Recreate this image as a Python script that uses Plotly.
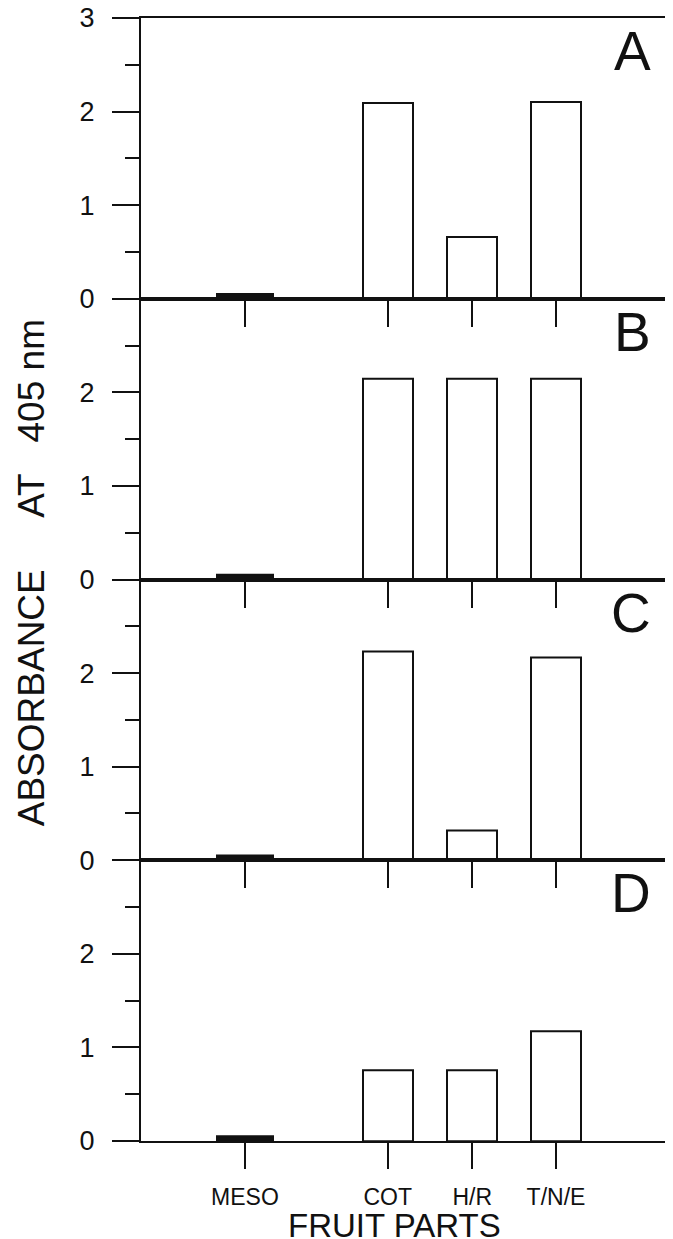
import plotly.graph_objects as go
from plotly.subplots import make_subplots

# ---- data ----
categories = ["MESO", "COT", "H/R", "T/N/E"]
x_positions = [0.0, 1.69, 2.69, 3.68]          # category positions along the x axis
panel_labels = ["A", "B", "C", "D"]
values_A = [0.05, 2.09, 0.66, 2.10]
values_B = [0.05, 2.14, 2.14, 2.14]
values_C = [0.05, 2.23, 0.32, 2.17]
values_D = [0.05, 0.76, 0.76, 1.17]
y_tickvals_first = [0, 1, 2, 3]
y_ticktext_first = ["0", "1", "2", "3"]
y_tickvals_other = [0, 1, 2]
y_ticktext_other = ["0", "1", "2"]
y_minor_ticks = [0.5, 1.5, 2.5]
NB = "\u00a0"
y_title = "ABSORBANCE" + NB * 5 + "AT" + NB * 3 + "405" + NB + "nm"
x_title = "FRUIT PARTS"

panels = [values_A, values_B, values_C, values_D]

# ---- styles ----
FONT = "Liberation Sans, Arial, sans-serif"
INK = "#111111"
bar_widths = [0.66, 0.59, 0.59, 0.59]
bar_fills = [INK, "white", "white", "white"]

# the page body adds an 8 px margin, so the figure is 8 px smaller than the window
FIG_W, FIG_H = 665, 1231

fig = make_subplots(rows=4, cols=1, vertical_spacing=0)

for i, vals in enumerate(panels):
    r = i + 1
    fig.add_trace(
        go.Bar(
            x=x_positions, y=vals, width=bar_widths,
            marker=dict(color=bar_fills, line=dict(color=INK, width=2)),
            showlegend=False, hoverinfo="skip",
        ),
        row=r, col=1,
    )
    fig.update_xaxes(
        range=[-1.23, 4.97], tickmode="array", tickvals=x_positions, ticktext=categories,
        ticks="outside", ticklen=26, tickwidth=2, tickcolor=INK,
        showline=True, linewidth=2, linecolor=INK, mirror=True,
        showgrid=False, zeroline=False, automargin=False,
        showticklabels=(r == 4),
        tickfont=dict(family=FONT, size=23, color=INK),
        ticklabelstandoff=8, ticklabeloverflow="allow",
        row=r, col=1,
    )
    fig.update_yaxes(
        range=[0, 3], tickmode="array",
        tickvals=y_tickvals_first if r == 1 else y_tickvals_other,
        ticktext=y_ticktext_first if r == 1 else y_ticktext_other,
        ticks="outside", ticklen=27, tickwidth=2, tickcolor=INK,
        minor=dict(tickmode="array", tickvals=y_minor_ticks, ticks="outside",
                   ticklen=14, tickwidth=2, tickcolor=INK, showgrid=False),
        showline=True, linewidth=2, linecolor=INK, mirror=True,
        showgrid=False, zeroline=False, automargin=False,
        tickfont=dict(family=FONT, size=27, color=INK),
        ticklabelstandoff=12, ticklabeloverflow="allow",
        row=r, col=1,
    )
    xref = "x domain" if r == 1 else f"x{r} domain"
    yref = "y domain" if r == 1 else f"y{r} domain"
    fig.add_annotation(
        text=panel_labels[i], xref=xref, yref=yref, x=1, y=1,
        xanchor="right", yanchor="top", xshift=-12, yshift=0,
        showarrow=False, font=dict(family=FONT, size=55, color=INK),
    )

fig.add_annotation(
    text=y_title, xref="paper", yref="paper", x=-0.209, y=0.506,
    xanchor="center", yanchor="middle", textangle=-90, showarrow=False,
    font=dict(family=FONT, size=37, color=INK),
)
fig.add_annotation(
    text=x_title, xref="paper", yref="paper", x=0.483, y=0, yshift=-64,
    xanchor="center", yanchor="top", showarrow=False,
    font=dict(family=FONT, size=33, color=INK),
)

fig.update_layout(
    width=FIG_W, height=FIG_H,
    margin=dict(l=133, r=8, t=10, b=98, autoexpand=False),
    paper_bgcolor="white", plot_bgcolor="rgba(0,0,0,0)",
    bargap=0, showlegend=False,
)

fig.write_html("out.html")
